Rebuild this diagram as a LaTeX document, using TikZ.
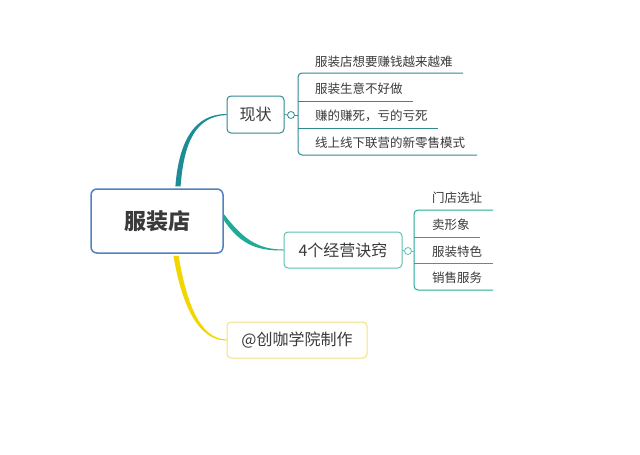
\documentclass[tikz,border=0pt]{standalone}
\usepackage{fontspec}
\newfontfamily\cjk{Noto Sans CJK SC}
\usetikzlibrary{calc,backgrounds}
\definecolor{txt}{HTML}{3A3A3A}
\definecolor{rootc}{HTML}{4F82BE}
\definecolor{tealA}{HTML}{1E8C96}
\definecolor{tealB}{HTML}{22AA98}
\definecolor{boxA}{HTML}{2F8A94}
\definecolor{boxB}{HTML}{5CC3AE}
\definecolor{yel}{HTML}{F2D600}
\definecolor{yelbox}{HTML}{F3E37C}
\tikzset{
  topic/.style={draw, fill=white, rounded corners=4pt, line width=1pt, text=txt, font=\cjk\fontsize{16}{18}\selectfont, inner sep=0pt},
  leaf/.style={anchor=west, text=txt, font=\cjk\fontsize{12.5}{14}\selectfont, inner sep=0pt},
  knob/.style={circle, draw, fill=white, line width=0.8pt, minimum size=7pt, inner sep=0pt},
  under/.style={line width=1pt, rounded corners=4pt}
}
\begin{document}
\begin{tikzpicture}[x=1pt,y=-1pt]
\useasboundingbox (0,0) rectangle (640,455);
% root
\node[draw=rootc, fill=white, line width=1.5pt, rounded corners=6pt, minimum width=132pt, minimum height=64pt, text=txt,
  font=\cjk\bfseries\fontsize{22}{24}\selectfont, inner sep=0pt] (root) at (157,221) {服装店};
% topics
\node[topic, draw=boxA, minimum width=57pt, minimum height=37pt] (t1) at (255.5,114.5) {现状};
\node[topic, draw=boxB, minimum width=118pt, minimum height=36pt] (t2) at (343,250) {4个经营诀窍};
\node[topic, draw=yelbox, minimum width=140pt, minimum height=36pt] (t3) at (297,340) {@创咖学院制作};
% branches (tapered), behind the boxes
\begin{scope}[on background layer]
\fill[white] (0,0) rectangle (640,455);
\coordinate (r1) at ([xshift=21pt,yshift=2pt]root.north);
\coordinate (r2) at ([xshift=-4pt,yshift=10pt]root.east);
\coordinate (r3) at ([xshift=19pt,yshift=-2pt]root.south);
\fill[tealA] ($(r1)+(-2.6,0)$) .. controls (179,140) and (195,114) .. ($(t1.west)+(0,-0.5)$)
  -- ($(t1.west)+(0,0.5)$) .. controls (197,116.2) and (184,140) .. ($(r1)+(2.6,0)$) -- cycle;
\fill[tealB] ($(r2)+(0,-2.6)$) .. controls (242,239.5) and (258,249.5) .. ($(t2.west)+(0,-0.5)$)
  -- ($(t2.west)+(0,0.5)$) .. controls (256,250.8) and (238,244.5) .. ($(r2)+(0,2.6)$) -- cycle;
\fill[yel] ($(r3)+(-2.6,0)$) .. controls (181,300) and (196,340.5) .. ($(t3.west)+(0,0.5)$)
  -- ($(t3.west)+(0,-0.5)$) .. controls (199,339.2) and (186,300) .. ($(r3)+(2.6,0)$) -- cycle;
\end{scope}
% knobs
\node[knob, draw=boxA] (k1) at (291,115) {};
\node[knob, draw=boxB] (k2) at (408,251) {};
% knob stems
\draw[boxA, line width=0.8pt] (t1.east) -- (k1.west);
\draw[boxB, line width=0.8pt] (t2.east) -- (k2.west);
% leaves group 1
\node[leaf] (a1) at (315,62) {服装店想要赚钱越来越难};
\node[leaf] (a2) at (315,89) {服装生意不好做};
\node[leaf] (a3) at (315,116) {赚的赚死，亏的亏死};
\node[leaf] (a4) at (315,143) {线上线下联营的新零售模式};
\coordinate (ae1) at (463,73);
\coordinate (ae2) at (413,101);
\coordinate (ae3) at (438,128);
\coordinate (ae4) at (477,155);
\draw[boxA, under] (ae1) -- (298,73) -- (298,155) -- (ae4);
\draw[boxA, line width=1pt] (298,101) -- (ae2);
\draw[boxA, line width=1pt] (298,128) -- (ae3);
\draw[boxA, line width=0.8pt] (k1.east) -- (298,115);
% leaves group 2
\node[leaf] (b1) at (432,198) {门店选址};
\node[leaf] (b2) at (432,225) {卖形象};
\node[leaf] (b3) at (432,252) {服装特色};
\node[leaf] (b4) at (432,278) {销售服务};
\coordinate (be1) at (493,210);
\coordinate (be2) at (480,237);
\coordinate (be3) at (493,263);
\coordinate (be4) at (493,290);
\draw[tealB, under] (be1) -- (414,210) -- (414,290) -- (be4);
\draw[tealB, line width=1pt] (414,237) -- (be2);
\draw[tealB, line width=1pt] (414,263) -- (be3);
\draw[boxB, line width=0.8pt] (k2.east) -- (414,251);
\end{tikzpicture}
\end{document}
